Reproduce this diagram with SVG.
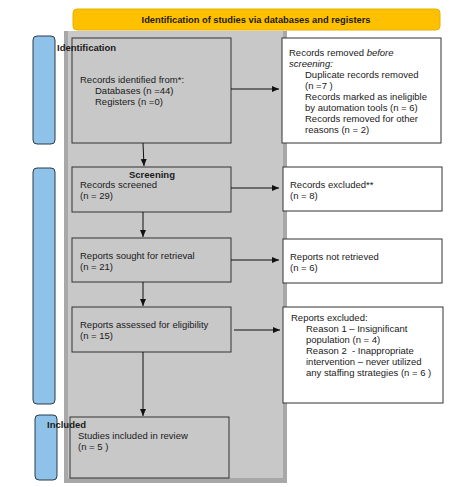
<svg xmlns="http://www.w3.org/2000/svg" width="451" height="487" viewBox="0 0 451 487">
<defs>
<style>
text{font-family:"Liberation Sans",Arial,sans-serif;font-size:9.5px;fill:#1a1a1a}
.b{font-weight:bold}
.t{font-weight:bold;font-size:9.3px;text-anchor:middle}
.lb{fill:#c8c8c8;stroke:#333;stroke-width:1}
.rb{fill:#fff;stroke:#333;stroke-width:1}
.side{fill:#8fc2e8;stroke:#2b3a4a;stroke-width:1}
.c{stroke:#111;stroke-width:1;fill:none;marker-end:url(#ah)}
</style>
<marker id="ah" markerWidth="8" markerHeight="8" refX="7" refY="4" orient="auto" markerUnits="userSpaceOnUse">
<path d="M0,1 L7,4 L0,7 Z" fill="#111"/>
</marker>
</defs>
<rect width="451" height="487" fill="#fff"/>
<g id="header">
<rect x="73" y="9" width="367" height="21" rx="4" fill="#ffc000" stroke="#e8b000" stroke-width="1"/>
<text class="t" x="256" y="23">Identification of studies via databases and registers</text>
</g>
<g id="panel">
<rect x="64" y="31" width="223" height="452" fill="#a8a8a8"/>
<rect x="68" y="31" width="215" height="447" fill="#c8c8c8"/>
</g>
<g id="stage-identification">
<rect class="side" x="33" y="36" width="22" height="108" rx="4"/>
</g>
<g id="stage-screening">
<rect class="side" x="33" y="168" width="22" height="236" rx="4"/>
</g>
<g id="stage-included">
<rect class="side" x="35" y="415" width="22" height="65" rx="4"/>
</g>
<g id="identified">
<rect class="lb" x="72" y="38" width="159" height="105"/>
<text class="b" x="57" y="51">Identification</text>
<text x="80" y="83">Records identified from*:</text>
<text x="95" y="94">Databases (n =44)</text>
<text x="95" y="105">Registers (n =0)</text>
</g>
<g id="removed">
<rect class="rb" x="282" y="38" width="159" height="105"/>
<text x="289" y="56">Records removed <tspan font-style="italic">before</tspan></text>
<text x="289" y="66.5" font-style="italic">screening:</text>
<text x="305" y="78">Duplicate records removed</text>
<text x="305" y="88.5">(n =7 )</text>
<text x="305" y="99.5">Records marked as ineligible</text>
<text x="305" y="111">by automation tools (n = 6)</text>
<text x="305" y="122">Records removed for other</text>
<text x="305" y="132.5">reasons (n = 2)</text>
</g>
<g id="screened">
<rect class="lb" x="72" y="167" width="159" height="45"/>
<text class="b" x="129" y="178">Screening</text>
<text x="80" y="187.5">Records screened</text>
<text x="80" y="198.5">(n = 29)</text>
</g>
<g id="excluded">
<rect class="rb" x="283" y="167" width="159" height="44"/>
<text x="290" y="187.5">Records excluded**</text>
<text x="290" y="198.5">(n = 8)</text>
</g>
<g id="sought">
<rect class="lb" x="72" y="238" width="159" height="44"/>
<text x="80" y="258.5">Reports sought for retrieval</text>
<text x="80" y="269.5">(n = 21)</text>
</g>
<g id="notretrieved">
<rect class="rb" x="283" y="239" width="159" height="44"/>
<text x="290" y="259.5">Reports not retrieved</text>
<text x="290" y="270.5">(n = 6)</text>
</g>
<g id="assessed">
<rect class="lb" x="72" y="307" width="159" height="45"/>
<text x="80" y="327.5">Reports assessed for eligibility</text>
<text x="80" y="338.5">(n = 15)</text>
</g>
<g id="reportsexcluded">
<rect class="rb" x="283" y="307" width="160" height="96"/>
<text x="291" y="320.5">Reports excluded:</text>
<text x="306" y="331.5">Reason 1 – Insignificant</text>
<text x="306" y="342.5">population (n = 4)</text>
<text x="306" y="353.5" style="white-space:pre">Reason 2  - Inappropriate</text>
<text x="306" y="365">intervention – never utilized</text>
<text x="306" y="375.5">any staffing strategies (n = 6 )</text>
</g>
<g id="included">
<rect class="lb" x="70" y="417" width="159" height="61"/>
<text class="b" x="47" y="428">Included</text>
<text x="78" y="438.5">Studies included in review</text>
<text x="78" y="449.5">(n = 5 )</text>
</g>
<g id="connectors">
<path class="c" d="M143,143 L144,166"/>
<path class="c" d="M231,89 L279,89"/>
<path class="c" d="M143,212 L143,237"/>
<path class="c" d="M231,188 L279,188"/>
<path class="c" d="M143,282 L143,306"/>
<path class="c" d="M231,260 L279,260"/>
<path class="c" d="M143,352 L143,416"/>
<path class="c" d="M234,330 L280,330"/>
</g>
</svg>
